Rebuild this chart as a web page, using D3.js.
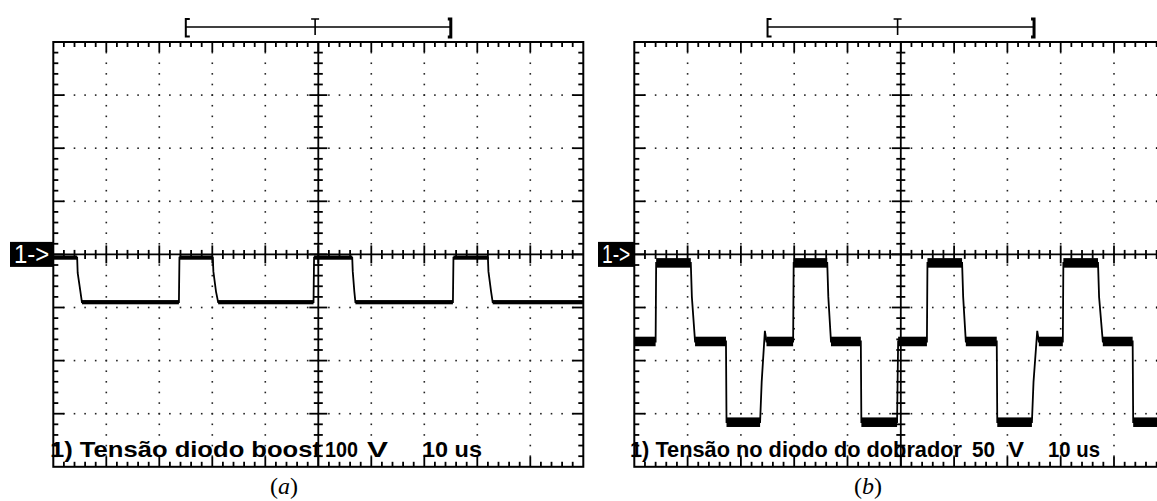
<!DOCTYPE html>
<html>
<head>
<meta charset="utf-8">
<script src="https://cdn.jsdelivr.net/npm/d3@7"></script>
<style>
  body { margin: 0; background: #fff; }
  svg { display: block; }
</style>
</head>
<body>
<div id="chart"></div>
<script>
// time base and vertical scale of both captures
var timePerDiv = 10;          // us / div
var voltsPerDivA = 100;       // V / div
var voltsPerDivB = 50;

// trace (a): diode voltage of the boost stage, [t (us), v (V)]
var traceA = [
  [0, -6], [4.5, -6], [4.6, -35], [5.0, -62], [5.4, -90],
  [23.7, -90], [23.8, -6],
  [30.1, -6], [30.2, -32], [30.7, -70], [31.1, -90],
  [49.1, -90], [49.2, -6],
  [56.4, -6], [56.5, -32], [56.8, -70], [57.0, -90],
  [75.4, -90], [75.5, -6],
  [82.0, -6], [82.1, -32], [82.6, -70], [82.9, -90],
  [100, -90]
];
// trace (b): diode voltage of the voltage doubler
var traceB = [
  [0, -82], [4.0, -82], [4.1, -8],
  [10.6, -8], [10.8, -40], [11.4, -82],
  [17.2, -82], [17.3, -158],
  [23.6, -158], [23.9, -120], [24.5, -72], [24.8, -82],
  [29.8, -82], [29.9, -8],
  [36.2, -8], [36.4, -40], [36.9, -82],
  [42.5, -82], [42.6, -158],
  [49.3, -158], [49.5, -82],
  [54.9, -82], [55.0, -8],
  [61.5, -8], [61.7, -40], [62.2, -82],
  [68.0, -82], [68.1, -158],
  [74.6, -158], [74.9, -120], [75.6, -72], [75.9, -82],
  [80.4, -82], [80.5, -8],
  [87.0, -8], [87.2, -40], [87.9, -82],
  [93.5, -82], [93.6, -158],
  [100, -158]
];
// half width of the noise band on the flat parts (V)
var noiseA = 4;
var noiseB = 4.5;

// trigger window markers, in divisions from the left edge: [ start, T, end ]
var markerDivs = [2.5, 4.94, 7.5];

// screen texts
var channelTag = "1->";
var labelsA = ["1) Tensão diodo boost", "100", "V", "10 us"];
var labelsB = ["1) Tensão no diodo do dobrador", "50", "V", "10 us"];
var captions = ["a", "b"];

var W = 1157, H = 501;
var svg = d3.select("#chart").append("svg")
    .attr("width", W).attr("height", H);
svg.append("rect").attr("width", W).attr("height", H).attr("fill", "#fff");

var gridTop = 42, vdiv = 53.1;

function drawPanel(cfg) {
    var x0 = cfg.x0, dx = cfg.dx;
    var right = x0 + 10 * dx, bottom = gridTop + 8 * vdiv;
    var x = d3.scaleLinear().domain([0, 10 * timePerDiv]).range([x0, right]);
    var y = d3.scaleLinear().domain([-4 * cfg.vpd, 4 * cfg.vpd]).range([bottom, gridTop]);
    var g = svg.append("g");

    var clipId = "clip" + cfg.id;
    svg.append("clipPath").attr("id", clipId)
      .append("rect").attr("x", x0).attr("y", gridTop).attr("width", 10 * dx).attr("height", 8 * vdiv);

    // dotted grid
    var dots = [];
    for (var i = 1; i < 10; i++) {
        if (i == 5) continue;
        for (var j = 1; j < 40; j++) dots.push([x0 + i * dx, gridTop + j * vdiv / 5]);
    }
    for (var k = 1; k < 8; k++) {
        if (k == 4) continue;
        for (var j = 1; j < 50; j++) dots.push([x0 + j * dx / 5, gridTop + k * vdiv]);
    }
    g.append("g").selectAll("rect").data(dots).enter().append("rect")
        .attr("x", d => d[0] - 0.8).attr("y", d => d[1] - 0.8)
        .attr("width", 1.6).attr("height", 1.6).attr("fill", "#222");

    var ticks = [];
    // frame ticks, top & bottom
    for (var j = 1; j < 50; j++) {
        var len = (j % 5 == 0) ? 10 : 5;
        var xx = x0 + j * dx / 5;
        ticks.push([xx, gridTop, xx, gridTop + len]);
        ticks.push([xx, bottom, xx, bottom - len]);
    }
    // frame ticks, left & right
    for (var j = 1; j < 40; j++) {
        var len = (j % 5 == 0) ? 11 : 5;
        var yy = gridTop + j * vdiv / 5;
        ticks.push([x0, yy, x0 + len, yy]);
        ticks.push([right, yy, right - len, yy]);
    }
    // centre axes with cross ticks
    var cx = x0 + 5 * dx, cy = gridTop + 4 * vdiv;
    ticks.push([cx, gridTop, cx, bottom]);
    ticks.push([x0, cy, right, cy]);
    for (var j = 1; j < 50; j++) {
        var h = (j % 5 == 0) ? 9 : 4.5;
        var xx = x0 + j * dx / 5;
        ticks.push([xx, cy - h, xx, cy + h]);
    }
    for (var j = 1; j < 40; j++) {
        var h = (j % 5 == 0) ? 9 : 4.5;
        var yy = gridTop + j * vdiv / 5;
        ticks.push([cx - h, yy, cx + h, yy]);
    }
    g.append("g").selectAll("line").data(ticks).enter().append("line")
        .attr("x1", d => d[0]).attr("y1", d => d[1])
        .attr("x2", d => d[2]).attr("y2", d => d[3])
        .attr("stroke", "#000").attr("stroke-width", 1.8);

    g.append("rect").attr("x", x0).attr("y", gridTop)
        .attr("width", 10 * dx).attr("height", 8 * vdiv)
        .attr("fill", "none").attr("stroke", "#000").attr("stroke-width", 2);

    // trigger window on top
    var m0 = x0 + markerDivs[0] * dx, mT = x0 + markerDivs[1] * dx, m1 = x0 + markerDivs[2] * dx;
    var mk = g.append("g").attr("stroke", "#000").attr("fill", "none");
    mk.append("line").attr("x1", m0).attr("x2", m1).attr("y1", 27).attr("y2", 27).attr("stroke-width", 1.6);
    mk.append("path").attr("d", `M${m0 + 4},19 H${m0} V36.5 H${m0 + 4}`).attr("stroke-width", 2);
    mk.append("path").attr("d", `M${mT - 4},19 H${mT + 4} M${mT},19 V35`).attr("stroke-width", 1.6);
    mk.append("path").attr("d", `M${m1 - 3},19 H${m1} V37 H${m1 - 3}`).attr("stroke-width", 3);

    // channel marker
    g.append("rect").attr("x", cfg.tagX).attr("y", cy - 12.5)
        .attr("width", x0 - cfg.tagX).attr("height", 25).attr("fill", "#000");
    g.append("text").attr("x", cfg.tagX + 4).attr("y", cy + 9)
        .attr("font-family", "Liberation Sans, Arial, sans-serif")
        .attr("font-size", 25)
        .attr("textLength", x0 - cfg.tagX - 8).attr("lengthAdjust", "spacingAndGlyphs")
        .attr("fill", "#fff").text(channelTag);

    // trace: noise bands on flat parts + the line itself
    var tr = g.append("g").attr("clip-path", `url(#${clipId})`);
    var flats = [];
    for (var i = 1; i < cfg.trace.length; i++) {
        var a = cfg.trace[i - 1], b = cfg.trace[i];
        if (a[1] == b[1] && b[0] - a[0] > 1) flats.push([a[0], b[0], a[1]]);
    }
    tr.selectAll("rect").data(flats).enter().append("rect")
        .attr("x", d => x(d[0])).attr("width", d => x(d[1]) - x(d[0]))
        .attr("y", d => y(d[2] + cfg.noise)).attr("height", d => y(d[2] - cfg.noise) - y(d[2] + cfg.noise))
        .attr("fill", "#000");
    var line = d3.line().x(d => x(d[0])).y(d => y(d[1]));
    tr.append("path").datum(cfg.trace).attr("d", line)
        .attr("fill", "none").attr("stroke", "#000").attr("stroke-width", 1.8);

    // screen label
    var tg = g.append("g").attr("font-family", "Liberation Sans, Arial, sans-serif")
        .attr("font-weight", "bold").attr("font-size", 22).attr("fill", "#000");
    cfg.labels.forEach(function(s, i) {
        tg.append("text").attr("x", cfg.labelPos[i][0]).attr("y", 457)
            .attr("textLength", cfg.labelPos[i][1] - cfg.labelPos[i][0])
            .attr("lengthAdjust", "spacingAndGlyphs").text(s);
    });

    // caption under the panel
    var cap = svg.append("text").attr("x", cfg.capX).attr("y", 494)
        .attr("text-anchor", "middle")
        .attr("font-family", "Liberation Serif, Times New Roman, serif")
        .attr("font-size", 24).attr("fill", "#000");
    cap.append("tspan").text("(");
    cap.append("tspan").attr("font-style", "italic").text(cfg.caption);
    cap.append("tspan").text(")");
}

drawPanel({
    id: "a", x0: 53.3, dx: 53.0, vpd: voltsPerDivA, trace: traceA, noise: noiseA,
    tagX: 10, labels: labelsA,
    labelPos: [[50, 321], [325, 358], [367, 388], [422, 482]],
    capX: 284, caption: captions[0]
});
drawPanel({
    id: "b", x0: 634.3, dx: 53.3, vpd: voltsPerDivB, trace: traceB, noise: noiseB,
    tagX: 598, labels: labelsB,
    labelPos: [[630, 962], [972, 995], [1008, 1024], [1048, 1100]],
    capX: 868, caption: captions[1]
});
</script>
</body>
</html>
